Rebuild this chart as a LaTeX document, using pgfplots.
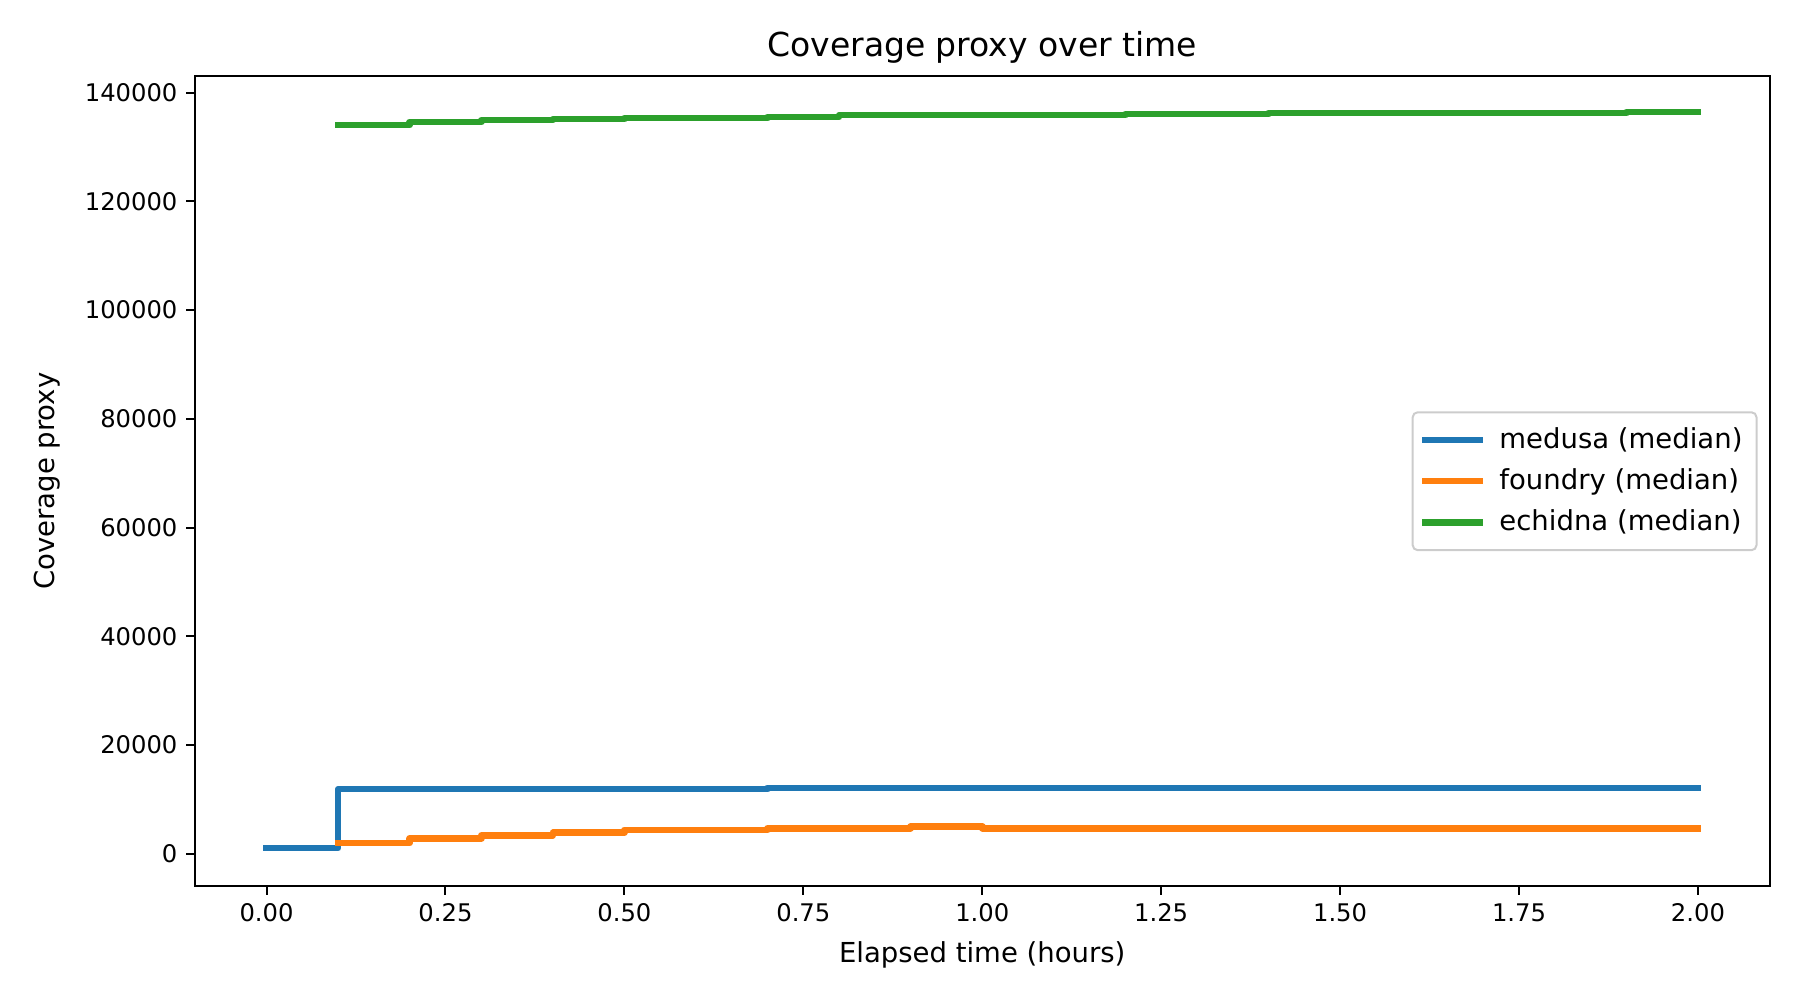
\documentclass[border=0pt]{standalone}
\usepackage{fontspec}
\setmainfont{DejaVu Sans}
\usepackage{pgfplots}
\pgfplotsset{compat=1.18}
\usetikzlibrary{calc}

\definecolor{tabblue}{HTML}{1F77B4}
\definecolor{taborange}{HTML}{FF7F0E}
\definecolor{tabgreen}{HTML}{2CA02C}

\begin{document}
\begin{tikzpicture}
\begin{axis}[
  scale only axis,
  width=629.8pt, height=323.8pt,
  xmin=-0.1, xmax=2.1,
  ymin=-5970, ymax=143000,
  axis line style={line width=0.8pt},
  tick align=outside,
  major tick length=3.5pt,
  tick style={line width=0.8pt, black},
  xtick={0,0.25,...,2.0},
  ytick={0,20000,...,140000},
  scaled y ticks=false,
  xtick pos=bottom, ytick pos=left,
  /pgf/number format/assume math mode=true,
  xticklabel style={/pgf/number format/.cd,fixed,fixed zerofill,precision=2},
  yticklabel style={/pgf/number format/.cd,fixed,1000 sep={}},
  ticklabel style={font=\fontsize{9.7}{11.6}\selectfont},
  title={Coverage proxy over time},
  title style={font=\fontsize{13.2}{15.8}\selectfont, yshift=-4.2pt},
  xlabel={Elapsed time (hours)},
  xlabel style={yshift=-1.2pt},
  ylabel={Coverage proxy},
  ylabel style={yshift=3.0pt},
  label style={font=\fontsize{11}{13.2}\selectfont},
  legend cell align=left,
  legend style={at={(1,0.5)}, anchor=east, xshift=-4.8pt,
    draw=black!20, line width=0.8pt, rounded corners=2pt,
    font=\fontsize{11}{13.2}\selectfont,
    row sep=2.6pt, inner xsep=3.6pt, inner ysep=4.2pt},
  legend image code/.code={\draw[#1, line cap=rect] (0pt,0pt) -- (22pt,0pt); \path (26.5pt,0pt);},
  every axis plot/.append style={line width=2.6pt, line join=round, line cap=rect, const plot mark left, no markers},
]
\addplot[tabblue] coordinates {
  (0.0,1000) (0.1,11850) (0.7,12100) (2.0,12100)
};
\addlegendentry{medusa (median)}
\addplot[taborange] coordinates {
  (0.1,1900) (0.2,2800) (0.3,3350) (0.4,3850) (0.5,4350)
  (0.7,4650) (0.9,4950) (1.0,4650) (2.0,4650)
};
\addlegendentry{foundry (median)}
\addplot[tabgreen] coordinates {
  (0.1,134050) (0.2,134600) (0.3,134970) (0.4,135150) (0.5,135330)
  (0.7,135510) (0.8,135880) (1.2,136070) (1.4,136250) (1.9,136440) (2.0,136440)
};
\addlegendentry{echidna (median)}
\end{axis}
\useasboundingbox ($(current axis.south west)+(-78pt,-45.6pt)$) rectangle ($(current axis.north east)+(12.2pt,30.6pt)$);
\end{tikzpicture}
\end{document}
